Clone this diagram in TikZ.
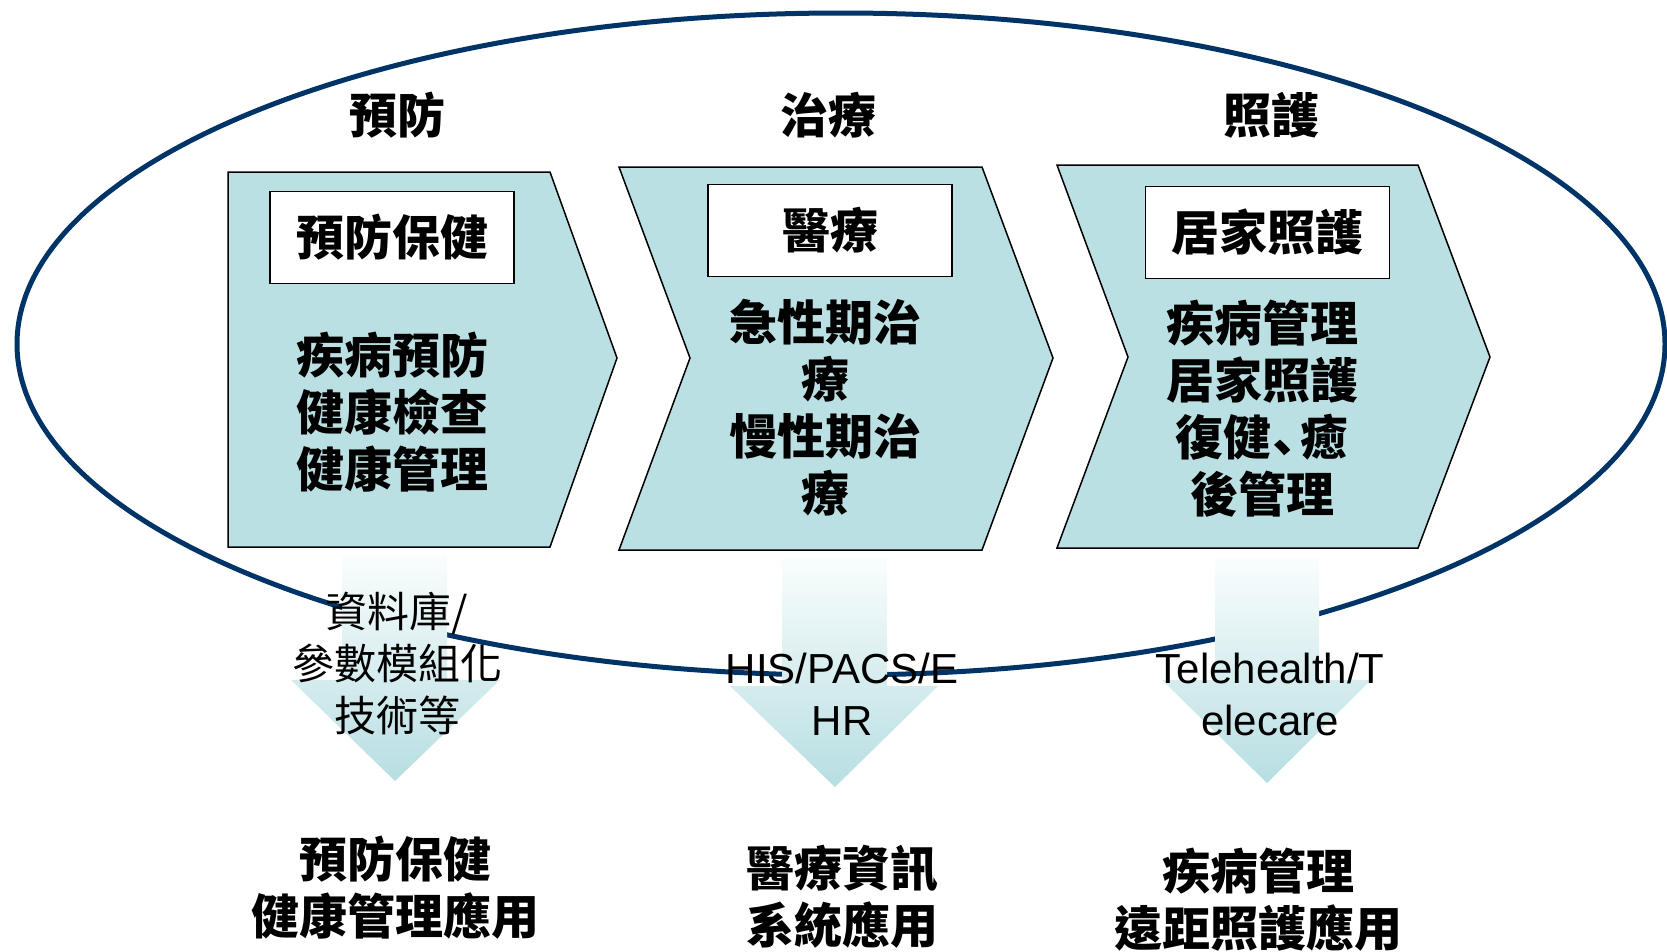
\documentclass[tikz,border=0pt]{standalone}
\usepackage{fontspec}
\newfontfamily\cjk{Noto Sans CJK TC}
\newfontfamily\arial{Liberation Sans}
\definecolor{navy}{RGB}{0,51,102}
\definecolor{chev}{RGB}{187,224,227}
\definecolor{arrtop}{RGB}{250,253,253}
\definecolor{arrbot}{RGB}{183,222,226}
\newcommand{\narrowcomma}{\makebox[0.6em][c]{\hspace{-0.15em}\raisebox{-0.2em}{、}}}
\begin{document}
\begin{tikzpicture}[x=1pt,y=-1pt,
  chevron/.style={fill=chev,draw=black,line width=1.5pt,line join=miter},
  downarrow/.style={top color=arrtop,bottom color=arrbot},
  labelbox/.style={draw=black,fill=white,line width=1.8pt,minimum width=244pt,minimum height=92pt,inner sep=0pt,font=\cjk\bfseries\fontsize{48}{57}\selectfont},
  boldtxt/.style={inner sep=0pt,align=center,font=\cjk\bfseries\fontsize{48}{57}\selectfont},
  cjktxt/.style={inner sep=0pt,align=center,font=\cjk\fontsize{42}{52}\selectfont},
  lattxt/.style={inner sep=0pt,align=center,font=\arial\fontsize{42}{52}\selectfont}
]
\useasboundingbox (0,0) rectangle (1667,951);

% ellipse
\draw[navy,line width=5pt] (841,344) ellipse [x radius=824, y radius=331];

% chevrons
\draw[chevron] (228,172) -- (550,172) -- (617,358) -- (550,547) -- (228,547) -- cycle;
\draw[chevron] (619,167) -- (982,167) -- (1053,358) -- (982,550) -- (619,550) -- (690,358) -- cycle;
\draw[chevron] (1057,165) -- (1418,165) -- (1490,357) -- (1418,548) -- (1057,548) -- (1128,357) -- cycle;

% down arrows
\shade[downarrow] (342,555) -- (447,555) -- (447,680) -- (500,680) -- (395,781) -- (291,680) -- (342,680) -- cycle;
\shade[downarrow] (782,558) -- (887,558) -- (887,686) -- (938,686) -- (835,787) -- (730,686) -- (782,686) -- cycle;
\shade[downarrow] (1215,558) -- (1319,558) -- (1319,680) -- (1371,680) -- (1267,783) -- (1162,680) -- (1215,680) -- cycle;

% headers
\node[boldtxt] (h1) at (397,115) {預防};
\node[boldtxt] (h2) at (828,115) {治療};
\node[boldtxt] (h3) at (1271,115) {照護};

% label boxes
\node[labelbox] (b1) at (392,237.5) {預防保健};
\node[labelbox] (b2) at (830,230.5) {醫療};
\node[labelbox] (b3) at (1267.5,232.5) {居家照護};

% chevron bodies
\node[boldtxt] (c1) at (392,412) {疾病預防\\健康檢查\\健康管理};
\node[boldtxt] (c2) at (825,408) {急性期治\\療\\慢性期治\\療};
\node[boldtxt] (c3) at (1262,409) {疾病管理\\居家照護\\復健\narrowcomma 癒\\後管理};

% arrow texts
\node[cjktxt] (a1) at (397,663) {資料庫/\\參數模組化\\技術等};
\node[lattxt] (a2) at (842,694) {HIS/PACS/E\\HR};
\node[lattxt] (a3) at (1270,694) {Telehealth/T\\elecare};

% bottom texts
\node[boldtxt] (r1) at (395,888) {預防保健\\健康管理應用};
\node[boldtxt] (r2) at (842,897) {醫療資訊\\系統應用};
\node[boldtxt] (r3) at (1258,900) {疾病管理\\遠距照護應用};
\end{tikzpicture}
\end{document}
